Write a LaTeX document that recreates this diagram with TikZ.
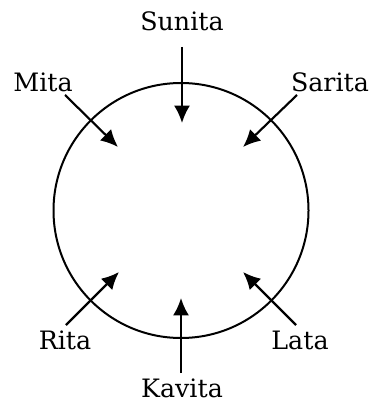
\documentclass[tikz,border=0pt]{standalone}
\usepackage{fontspec}
\setmainfont{DejaVu Serif}
\usetikzlibrary{arrows.meta}
\tikzset{
  lbl/.style={inner sep=0pt, font=\fontsize{19}{22}\selectfont},
  arr/.style={line width=1.6pt, -{Latex[length=13pt,width=12pt]}},
  ring/.style={line width=1.5pt}
}
\begin{document}
\begin{tikzpicture}[x=0.75pt,y=-0.75pt]
\useasboundingbox (0,0) rectangle (373,402);
\draw[ring] (181,210.5) circle[radius=127.5];
\node[lbl] (sunita) at (182,21) {Sunita};
\node[lbl] (mita) at (43,82) {Mita};
\node[lbl] (sarita) at (330,82) {Sarita};
\node[lbl] (rita) at (65,340) {Rita};
\node[lbl] (lata) at (300,340) {Lata};
\node[lbl] (kavita) at (182,388) {Kavita};
\coordinate (s1) at (182,47);  \coordinate (s2) at (182,123);
\coordinate (m1) at (65,95);   \coordinate (m2) at (118,147);
\coordinate (a1) at (297,95);  \coordinate (a2) at (243,147);
\coordinate (r1) at (66,325);  \coordinate (r2) at (119,272);
\coordinate (l1) at (296,325); \coordinate (l2) at (243,272);
\coordinate (k1) at (181,373); \coordinate (k2) at (181,298);
\draw[arr] (s1) -- (s2);
\draw[arr] (m1) -- (m2);
\draw[arr] (a1) -- (a2);
\draw[arr] (r1) -- (r2);
\draw[arr] (l1) -- (l2);
\draw[arr] (k1) -- (k2);
\end{tikzpicture}
\end{document}
